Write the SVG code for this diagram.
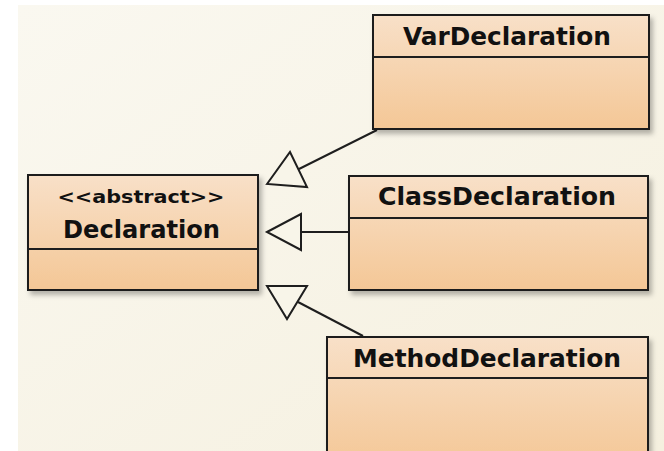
<svg xmlns="http://www.w3.org/2000/svg" width="664" height="451" viewBox="0 0 664 451">
  <defs>
    <linearGradient id="bg" x1="0" y1="0" x2="1" y2="1">
      <stop offset="0" stop-color="#faf8f0"/>
      <stop offset="1" stop-color="#f5f0df"/>
    </linearGradient>
    <linearGradient id="boxFill" x1="0" y1="0" x2="0" y2="1">
      <stop offset="0" stop-color="#f8e0c8"/>
      <stop offset="1" stop-color="#f4c796"/>
    </linearGradient>
    <filter id="shadow" x="-10%" y="-10%" width="130%" height="140%">
      <feDropShadow dx="3" dy="4" stdDeviation="2.5" flood-color="#000" flood-opacity="0.28"/>
    </filter>
    <style>
      .box { fill: url(#boxFill); stroke: #1e1e1e; stroke-width: 2; filter: url(#shadow); }
      .div { stroke: #1e1e1e; stroke-width: 2; }
      .name { font-family: "DejaVu Sans Condensed", "DejaVu Sans", "Liberation Sans", sans-serif; font-weight: bold; font-size: 25px; fill: #111; text-anchor: middle; }
      .stereo { font-family: "DejaVu Sans Condensed", "DejaVu Sans", "Liberation Sans", sans-serif; font-weight: bold; font-size: 17px; fill: #111; text-anchor: middle; }
      .edge { stroke: #1e1e1e; stroke-width: 2; fill: none; }
      .head { stroke: #1e1e1e; stroke-width: 2; fill: #f8f5e9; stroke-linejoin: miter; }
    </style>
  </defs>

  <!-- canvas -->
  <rect x="0" y="0" width="664" height="451" fill="#ffffff"/>
  <rect x="18" y="5" width="646" height="446" fill="url(#bg)"/>

  <!-- generalization connectors -->
  <g id="connectors">
    <line class="edge" x1="377" y1="130" x2="299" y2="169"/>
    <polygon class="head" points="267,184 290,152 307,187"/>
    <line class="edge" x1="349" y1="232" x2="301" y2="232"/>
    <polygon class="head" points="267,232 301,214 301,250"/>
    <line class="edge" x1="363" y1="336" x2="298" y2="302"/>
    <polygon class="head" points="267,286 307,286 287,319"/>
  </g>

  <g id="Declaration">
    <rect class="box" x="28" y="175" width="230" height="115"/>
    <line class="div" x1="28" y1="249" x2="258" y2="249"/>
    <text class="stereo" x="141" y="203" textLength="167" lengthAdjust="spacingAndGlyphs">&lt;&lt;abstract&gt;&gt;</text>
    <text class="name" x="141.5" y="238" textLength="157" lengthAdjust="spacingAndGlyphs">Declaration</text>
  </g>

  <g id="VarDeclaration">
    <rect class="box" x="373" y="15" width="276" height="114"/>
    <line class="div" x1="373" y1="57" x2="649" y2="57"/>
    <text class="name" x="507" y="45" textLength="208" lengthAdjust="spacingAndGlyphs">VarDeclaration</text>
  </g>

  <g id="ClassDeclaration">
    <rect class="box" x="349" y="176" width="299" height="114"/>
    <line class="div" x1="349" y1="218" x2="648" y2="218"/>
    <text class="name" x="497" y="205" textLength="238" lengthAdjust="spacingAndGlyphs">ClassDeclaration</text>
  </g>

  <g id="MethodDeclaration">
    <rect class="box" x="327" y="337" width="321" height="130"/>
    <line class="div" x1="327" y1="378" x2="648" y2="378"/>
    <text class="name" x="487" y="367" textLength="268" lengthAdjust="spacingAndGlyphs">MethodDeclaration</text>
  </g>
</svg>
